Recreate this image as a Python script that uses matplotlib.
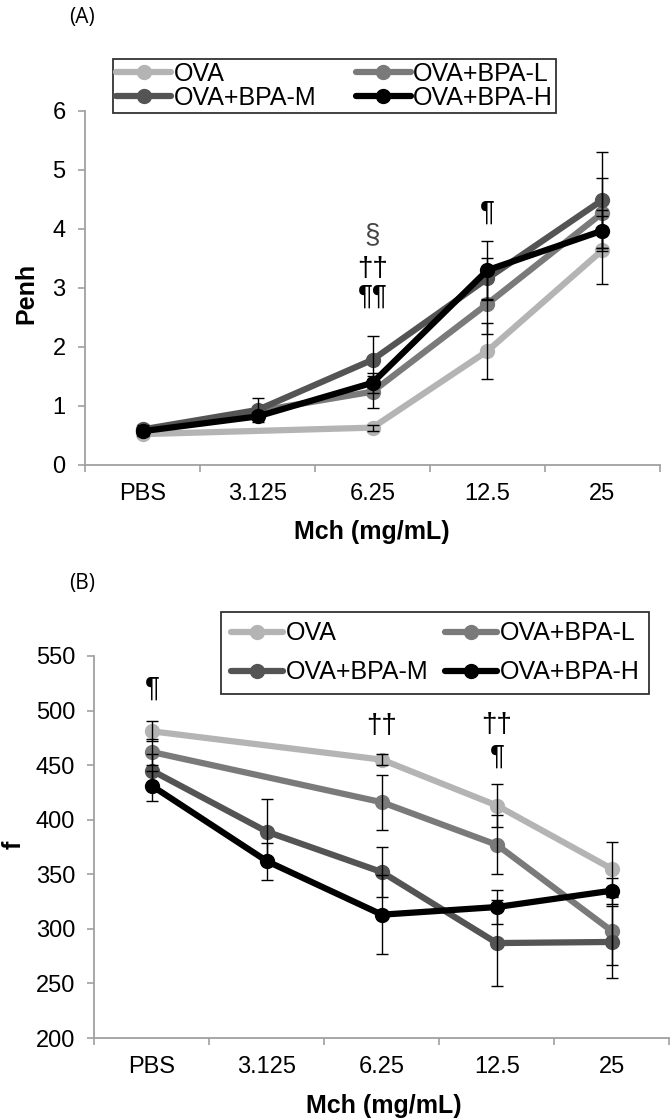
import numpy as np
import matplotlib
matplotlib.use("Agg")
import matplotlib.pyplot as plt

plt.rcParams['font.family'] = ['Liberation Sans', 'DejaVu Sans']

doses = ["PBS", "3.125", "6.25", "12.5", "25"]
groups = ["OVA", "OVA+BPA-L", "OVA+BPA-M", "OVA+BPA-H"]
colors = ["#b4b4b4", "#7a7a7a", "#545454", "#000000"]

# panel A: Penh (nan = no point, line joins across)
penh_ova = [0.52, np.nan, 0.63, 1.93, 3.64]
penh_l = [0.58, np.nan, 1.24, 2.73, 4.27]
penh_m = [0.60, 0.93, 1.78, 3.16, 4.49]
penh_h = [0.57, 0.82, 1.39, 3.30, 3.97]
penh_ova_err = [0.04, 0, 0.05, 0.48, 0.57]
penh_l_err = [0.05, 0, 0.27, 0.51, 0.60]
penh_m_err = [0.08, 0.20, 0.41, 0.35, 0.81]
penh_h_err = [0.06, 0.06, 0.17, 0.50, 0.35]

# panel B: f
f_ova = [481, np.nan, 455, 413, 355]
f_l = [462, np.nan, 416, 377, 298]
f_m = [445, 389, 352, 287, 288]
f_h = [431, 362, 313, 320, 335]
f_ova_err = [9, 0, 5, 20, 25]
f_l_err = [12, 0, 25, 27, 31]
f_m_err = [15, 30, 23, 39, 33]
f_h_err = [14, 17, 36, 16, 12]

marks_a = [(2, 3.90, "§", "#444444"), (2, 3.32, "††", "black"),
           (2, 2.85, "¶¶", "black"), (3, 4.27, "¶", "black")]
marks_b = [(0, 520, "¶", "black"), (2, 486, "††", "black"),
           (3, 487, "††", "black"), (3, 458, "¶", "black")]

axis_col = "#a0a0a0"


def draw(ax, series, errs, ylim, step):
    x = np.arange(len(doses))
    handles = []
    for y, e, c in zip(series, errs, colors):
        y = np.array(y, float)
        ok = ~np.isnan(y)
        ax.errorbar(x[ok], y[ok], yerr=np.array(e, float)[ok], fmt="none",
                    ecolor="black", elinewidth=1.0, capsize=4, capthick=1.0, zorder=5)
        h, = ax.plot(x[ok], y[ok], color=c, lw=4.5, marker="o", ms=10,
                     solid_capstyle="round", zorder=3)
        handles.append(h)
    ax.set_xlim(-0.5, len(doses) - 0.5)
    ax.set_ylim(*ylim)
    ax.set_yticks(np.arange(ylim[0], ylim[1] + step / 2, step))
    ax.set_xticks(np.arange(-0.5, len(doses), 1.0))
    ax.set_xticklabels([])
    ax.set_xticks(x, minor=True)
    ax.set_xticklabels(doses, minor=True)
    ax.tick_params(axis="x", which="major", direction="out", length=5, color=axis_col, width=1.2)
    ax.tick_params(axis="x", which="minor", length=0, pad=13, labelsize=17)
    ax.tick_params(axis="y", direction="out", length=5, color=axis_col, width=1.2, pad=9, labelsize=17)
    for s in ["top", "right"]:
        ax.spines[s].set_visible(False)
    for s in ["left", "bottom"]:
        ax.spines[s].set_color(axis_col)
        ax.spines[s].set_linewidth(1.3)
    return handles


fig = plt.figure(figsize=(6.7, 11.2), dpi=100)

ax1 = fig.add_axes([0.127, 0.585, 0.858, 0.316])
h1 = draw(ax1, [penh_ova, penh_l, penh_m, penh_h],
          [penh_ova_err, penh_l_err, penh_m_err, penh_h_err], (0, 6), 1)
for xi, yi, t, c in marks_a:
    ax1.text(xi, yi, t, ha="center", va="center", fontsize=20, color=c)
leg1 = ax1.legend([h1[0], h1[2], h1[1], h1[3]], [groups[0], groups[2], groups[1], groups[3]],
                  ncol=2, loc="upper left", bbox_to_anchor=(113 / 670, 1 - 60 / 1120, 443 / 670, 0.001),
                  bbox_transform=fig.transFigure, mode="expand", fontsize=18, frameon=True,
                  fancybox=False, edgecolor="black", handlelength=2.2, handletextpad=0.1,
                  labelspacing=0.0, borderpad=0.12, borderaxespad=0, columnspacing=0.5)
leg1.get_frame().set_linewidth(1.3)

ax2 = fig.add_axes([0.141, 0.0732, 0.858, 0.3411])
h2 = draw(ax2, [f_ova, f_l, f_m, f_h],
          [f_ova_err, f_l_err, f_m_err, f_h_err], (200, 550), 50)
for xi, yi, t, c in marks_b:
    ax2.text(xi, yi, t, ha="center", va="center", fontsize=20, color=c)
leg2 = ax2.legend([h2[0], h2[2], h2[1], h2[3]], [groups[0], groups[2], groups[1], groups[3]],
                  ncol=2, loc="upper left", bbox_to_anchor=(221 / 670, 1 - 613 / 1120, 428 / 670, 0.001),
                  bbox_transform=fig.transFigure, mode="expand", fontsize=18, frameon=True,
                  fancybox=False, edgecolor="black", handlelength=2.1, handletextpad=0.1,
                  labelspacing=0.6, borderpad=0.38, borderaxespad=0, columnspacing=0.5)
leg2.get_frame().set_linewidth(1.3)

fig.text(26 / 670, 1 - 293 / 1120, "Penh", rotation=90, ha="center", va="center",
         fontsize=18, fontweight="bold")
fig.text(14 / 670, 1 - 845 / 1120, "f", rotation=90, ha="center", va="center",
         fontsize=18, fontweight="bold")
fig.text(372 / 670, 1 - 532 / 1120, "Mch (mg/mL)", ha="center", va="center",
         fontsize=18, fontweight="bold")
fig.text(384 / 670, 1 - 1106 / 1120, "Mch (mg/mL)", ha="center", va="center",
         fontsize=18, fontweight="bold")
fig.text(82 / 670, 1 - 18 / 1120, "(A)", ha="center", va="center", fontsize=15,
         family=["Open Sans", "DejaVu Sans"])
fig.text(82 / 670, 1 - 583 / 1120, "(B)", ha="center", va="center", fontsize=15,
         family=["Open Sans", "DejaVu Sans"])

fig.savefig("out.png", dpi=100)
